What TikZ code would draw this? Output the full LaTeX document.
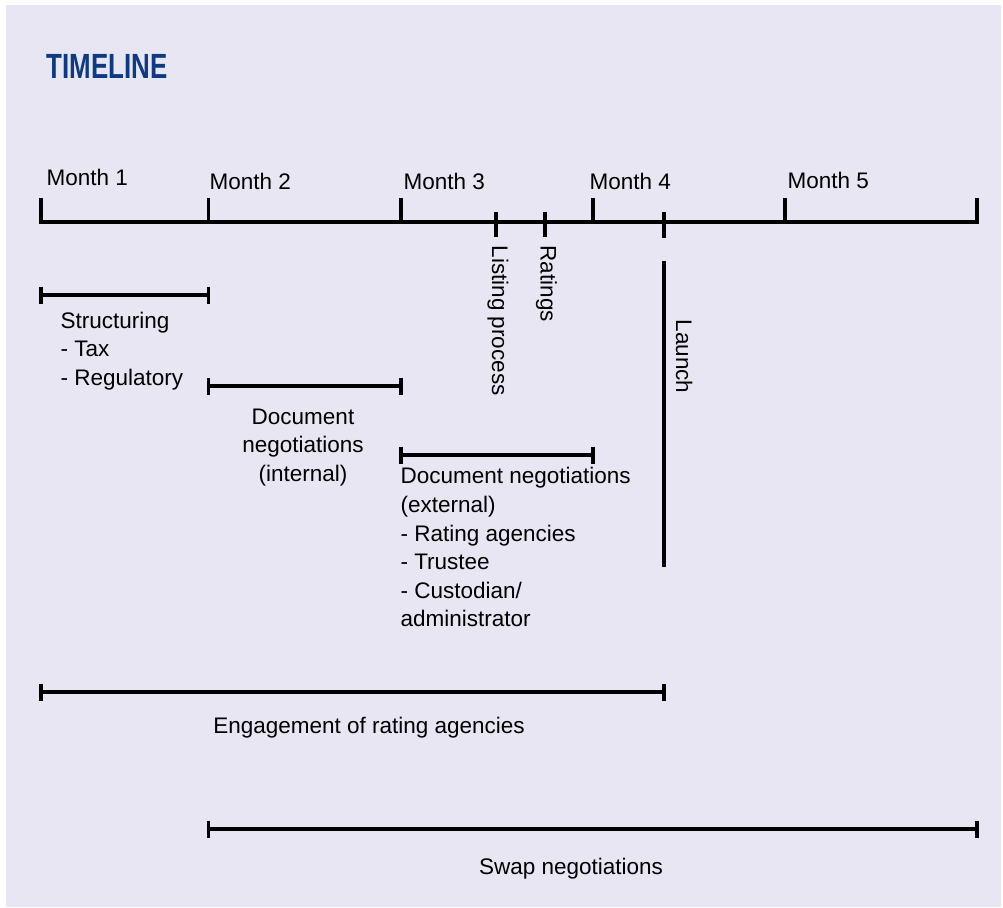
\documentclass[tikz,border=0pt]{standalone}
\usepackage{fontspec}
\setmainfont{Liberation Sans}
\definecolor{bgpanel}{RGB}{232,230,242}
\definecolor{titleblue}{RGB}{14,58,130}
\newcommand\spanline[2]{%
  \draw (#1) -- (#2);
  \draw[line cap=butt] ([yshift=8.5pt]#1) -- ([yshift=-8.5pt]#1);
  \draw[line cap=butt] ([yshift=8.5pt]#2) -- ([yshift=-8.5pt]#2);}
\begin{document}
\begin{tikzpicture}[x=1pt,y=-1pt,line width=3.1pt,
  lbl/.style={font=\fontsize{22.5}{28.6}\selectfont,inner sep=0pt,text=black},
  rlbl/.style={lbl,rotate=-90,anchor=base west},
  majortick/.style={line cap=butt},
  minortick/.style={line cap=butt}]
\useasboundingbox (0,0) rectangle (1003,907);
\fill[white] (0,0) rectangle (1003,907);
\fill[bgpanel] (6,5) rectangle (1001,907);

% title
\node[anchor=base west,inner sep=0pt,text=titleblue,font=\fontsize{35}{40}\selectfont\bfseries] (title) at (45,78.3) {\scalebox{0.74}[1]{TIMELINE}};

% axis coordinates
\coordinate (m1) at (41,222);
\coordinate (m2) at (208.5,222);
\coordinate (m3) at (401,222);
\coordinate (lp) at (496,222);
\coordinate (rt) at (545,222);
\coordinate (m4) at (593,222);
\coordinate (ln) at (664,222);
\coordinate (m5) at (785,222);
\coordinate (me) at (977,222);

\draw[line cap=rect] (m1) -- (me);
\foreach \c in {m1,m2,m3,m4,m5,me}{\draw[majortick] (\c) -- ++(0,-24.5);}
\draw[minortick] (lp) ++(0,-10.5) -- ++(0,25);
\draw[minortick] (rt) ++(0,-10.5) -- ++(0,25);
\draw[minortick] (ln) ++(0,-10) -- ++(0,26);

% month labels
\node[lbl,anchor=base west] (t1) at (45,185) {Month 1};
\node[lbl,anchor=base west] (t2) at (208,189) {Month 2};
\node[lbl,anchor=base west] (t3) at (402,189) {Month 3};
\node[lbl,anchor=base west] (t4) at (588,189) {Month 4};
\node[lbl,anchor=base west] (t5) at (786,188) {Month 5};

% milestone labels
\node[rlbl] (listing) at (492,244) {Listing process};
\node[rlbl] (ratings) at (540.5,244) {Ratings};
\node[rlbl] (launch) at (676,318) {Launch};
\coordinate (launchA) at (664,261);
\coordinate (launchB) at (664,567);
\draw[line cap=butt] (launchA) -- (launchB);

% structuring
\coordinate (s1) at (41,295);
\coordinate (s2) at (208.5,295);
\spanline{s1}{s2}
\node[lbl,anchor=north west,align=left] (structT) at (59,310.5) {Structuring\\- Tax\\- Regulatory};

% document negotiations internal
\coordinate (d1) at (208.5,386);
\coordinate (d2) at (401,386);
\spanline{d1}{d2}
\node[lbl,anchor=north,align=center] (docint) at (303,407) {Document\\negotiations\\(internal)};

% document negotiations external
\coordinate (e1) at (401,455);
\coordinate (e2) at (593,455);
\spanline{e1}{e2}
\node[lbl,anchor=north west,align=left] (docext) at (399,466) {Document negotiations\\(external)\\- Rating agencies\\- Trustee\\- Custodian/\\administrator};

% engagement of rating agencies
\coordinate (g1) at (41,692);
\coordinate (g2) at (664,692);
\spanline{g1}{g2}
\node[lbl,anchor=base] (engage) at (369,733) {Engagement of rating agencies};

% swap negotiations
\coordinate (w1) at (208.5,829);
\coordinate (w2) at (977,829);
\spanline{w1}{w2}
\node[lbl,anchor=base] (swap) at (571,874) {Swap negotiations};
\end{tikzpicture}
\end{document}
